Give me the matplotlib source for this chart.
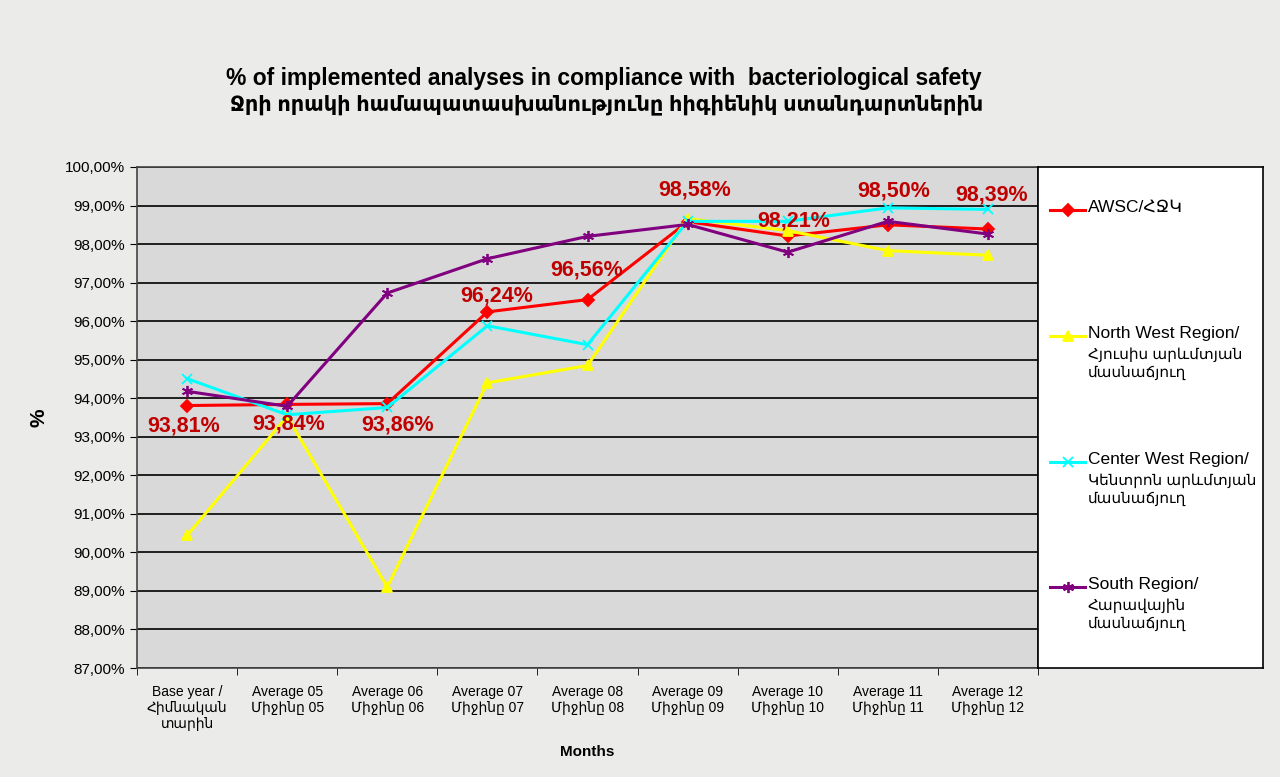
import numpy as np
import matplotlib.pyplot as plt
from matplotlib.ticker import FuncFormatter

# fonts: Liberation for latin, DejaVu for the armenian glyphs
plt.rcParams['font.family'] = ['Liberation Sans', 'DejaVu Sans']
NARROW = ['Liberation Sans Narrow', 'Liberation Sans', 'DejaVu Sans']

# donnees
categories = ["Base year /\nՀիմնական\nտարին", "Average 05\nՄիջինը 05", "Average 06\nՄիջինը 06",
              "Average 07\nՄիջինը 07", "Average 08\nՄիջինը 08", "Average 09\nՄիջինը 09",
              "Average 10\nՄիջինը 10", "Average 11\nՄիջինը 11", "Average 12\nՄիջինը 12"]
awsc = [93.81, 93.84, 93.86, 96.24, 96.56, 98.58, 98.21, 98.50, 98.39]
north_west = [90.44, 93.53, 89.10, 94.40, 94.85, 98.66, 98.35, 97.83, 97.71]
center_west = [94.51, 93.57, 93.76, 95.88, 95.39, 98.59, 98.59, 98.94, 98.90]
south = [94.18, 93.79, 96.73, 97.62, 98.20, 98.51, 97.79, 98.59, 98.26]

series_names = ["AWSC/ՀՋԿ",
                "North West Region/\nՀյուսիս արևմտյան\nմասնաճյուղ",
                "Center West Region/\nԿենտրոն արևմտյան\nմասնաճյուղ",
                "South Region/\nՀարավային\nմասնաճյուղ"]
series = [awsc, north_west, center_west, south]
colors = ["#ff0000", "#ffff00", "#00ffff", "#800080"]
markers = ["D", "^", "x", (6, 2, 0)]
msizes = [6, 7, 7, 8]

# decalage des etiquettes (pixels)
label_offsets = [(-3, -20), (1, -20), (10, -21), (9, 16), (-1, 30), (7, 32), (6, 15), (6, 34), (4, 34)]

fig = plt.figure(figsize=(12.8, 7.77), dpi=100)
fig.patch.set_facecolor("#ebebe9")

ax = fig.add_axes([137/1280, 1 - 668/777, (1038 - 137)/1280, (668 - 167)/777])
ax.set_facecolor("#d9d9d9")
x = np.arange(len(categories))

for vals, col, mk, ms in zip(series, colors, markers, msizes):
    ax.plot(x, vals, color=col, lw=2.2, marker=mk, ms=ms, mec=col, mfc=col, mew=1.3, zorder=3)

for xi, v, off in zip(x, awsc, label_offsets):
    ax.annotate(f"{v:.2f}%".replace(".", ","), (xi, v), xytext=off, textcoords="offset pixels",
                ha="center", va="center", color="#c00000", fontsize=15.5, fontweight="bold", zorder=5)

ax.set_xlim(-0.5, len(categories) - 0.5)
ax.set_ylim(87, 100)
ax.set_yticks(np.arange(87, 100.5, 1))
ax.yaxis.set_major_formatter(FuncFormatter(lambda v, p: f"{v:.2f}%".replace(".", ",")))
ax.grid(axis="y", color="black", lw=1.2)
ax.set_axisbelow(True)

ax.set_xticks(x)
ax.set_xticklabels(categories, family=NARROW, fontsize=10)
ax.set_xticks(np.arange(-0.5, len(categories)), minor=True)
ax.tick_params(axis="x", which="major", length=0, pad=12)
ax.tick_params(axis="x", which="minor", length=5, color="black")
ax.tick_params(axis="y", length=5, labelsize=11, color="black")
for s in ax.spines.values():
    s.set_color("#444444")
    s.set_linewidth(1.2)

ax.set_xlabel("Months", fontsize=11, fontweight="bold", labelpad=10)
ax.set_ylabel("%", fontsize=15, fontweight="bold", labelpad=12)

fig.text(604/1280, 1 - 78/777, "% of implemented analyses in compliance with  bacteriological safety",
         ha="center", va="center", fontsize=16.5, fontweight="bold", family=NARROW)
fig.text(607/1280, 1 - 105/777, "Ջրի որակի համապատասխանությունը հիգիենիկ ստանդարտներին",
         ha="center", va="center", fontsize=15, fontweight="bold", family=NARROW)

# legende dans une boite a droite
lax = fig.add_axes([1038/1280, 1 - 668/777, (1263 - 1038)/1280, (668 - 167)/777])
lax.set_facecolor("white")
lax.set_xlim(0, 225)
lax.set_ylim(501, 0)
lax.set_xticks([])
lax.set_yticks([])
for s in lax.spines.values():
    s.set_color("black")
    s.set_linewidth(1.2)
leg_y = [43, 169, 295, 420]
for yy, name, col, mk, ms in zip(leg_y, series_names, colors, markers, msizes):
    lax.plot([12, 47], [yy, yy], color=col, lw=2.2)
    lax.plot([29.5], [yy], marker=mk, color=col, ms=ms, mec=col, mfc=col, mew=1.3)
    first, _, rest = name.partition("\n")
    lax.text(50, yy - 10, first, ha="left", va="top", fontsize=12.5)
    if rest:
        # lignes armeniennes un peu plus petites (DejaVu est plus large)
        lax.text(50, yy + 11, rest, ha="left", va="top", fontsize=11, linespacing=1.35)

fig.savefig("out.png", dpi=100, facecolor=fig.get_facecolor())
